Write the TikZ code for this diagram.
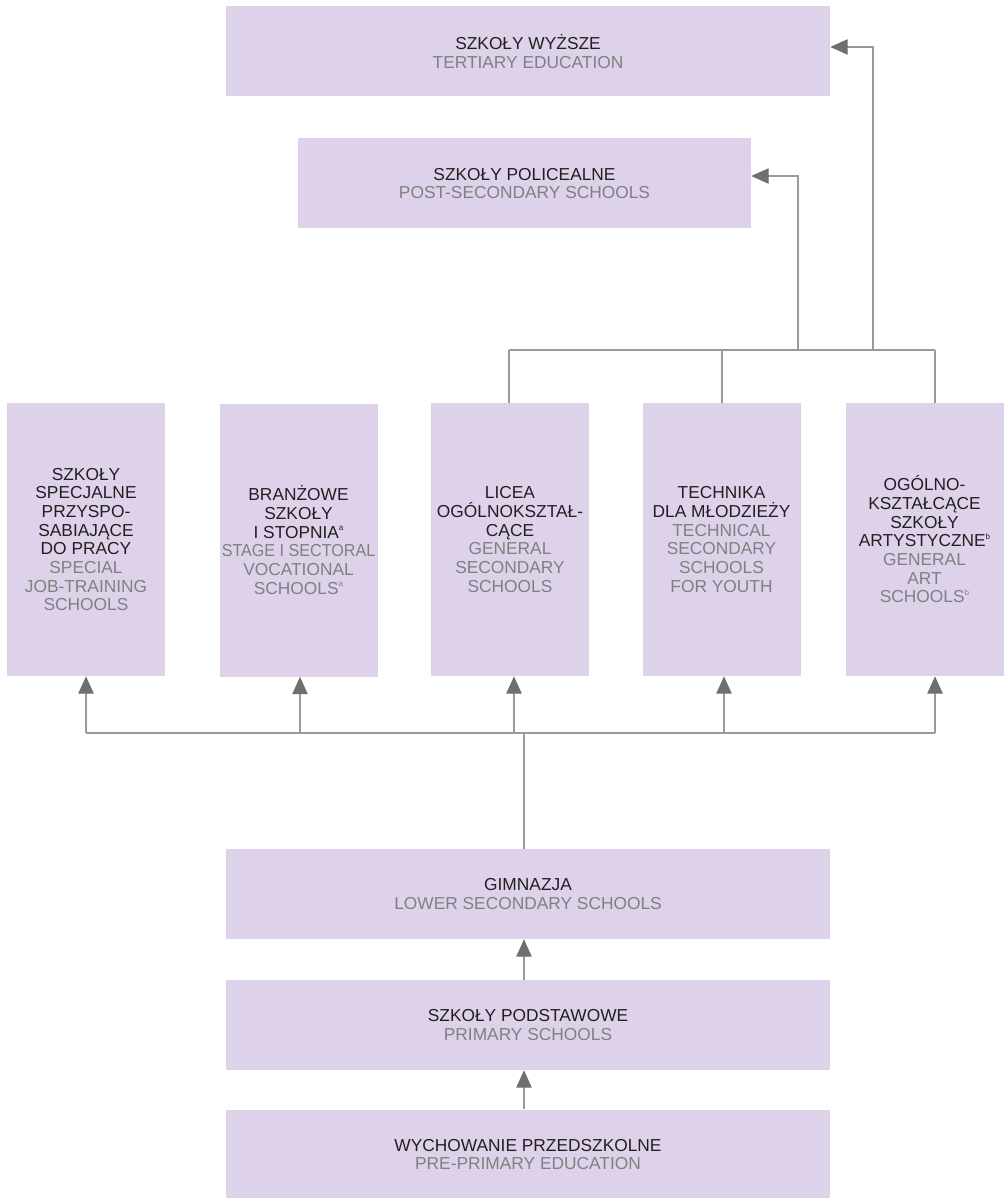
\documentclass[tikz,border=0pt]{standalone}
\usepackage{fontspec}
\usepackage{graphicx}
\setmainfont{Liberation Sans}
\usetikzlibrary{arrows.meta,calc}
\definecolor{boxfill}{HTML}{DED2EB}
\definecolor{plblack}{HTML}{231F20}
\definecolor{engrey}{HTML}{808080}
\definecolor{linegrey}{HTML}{9A9A9A}
\definecolor{tipgrey}{HTML}{6F706C}
\newcommand{\en}[1]{\textcolor{engrey}{#1}}
\newcommand{\fn}[1]{\raisebox{0.8ex}{\fontsize{6}{6}\selectfont #1}}
\begin{document}
\begin{tikzpicture}[
    x=0.75pt, y=-0.75pt,
    level/.style={fill=boxfill, inner sep=0pt, align=center, text=plblack,
        font=\fontsize{13}{14}\selectfont},
    wide/.style={level, minimum width=453pt, minimum height=67.5pt},
    mid/.style={level, minimum width=339.75pt, minimum height=67.5pt},
    col/.style={level, minimum width=118.5pt, minimum height=204.75pt},
    link/.style={draw=linegrey, line width=0.9pt},
    arr/.style={link, -{Triangle[length=13pt, width=11.5pt, color=tipgrey]}}
  ]
  \useasboundingbox (0,0) rectangle (1004,1198);

  % upper levels
  \node[wide] (wyz) at (528,51.5) {SZKOŁY WYŻSZE\\\en{TERTIARY EDUCATION}};
  \node[mid] (pol) at (524.5,183.5) {SZKOŁY POLICEALNE\\\en{POST-SECONDARY SCHOOLS}};

  % secondary schools
  \node[col] (col1) at (86,539.5) {SZKOŁY\\SPECJALNE\\PRZYSPO-\\SABIAJĄCE\\DO PRACY\\
      \en{SPECIAL}\\\en{JOB-TRAINING}\\\en{SCHOOLS}};
  \node[col] (col2) at (298.5,540) {BRANŻOWE\\SZKOŁY\\I STOPNIA\fn{a}\\
      \en{\scalebox{0.93}[1]{STAGE I SECTORAL}}\\\en{VOCATIONAL}\\\en{SCHOOLS\fn{a}}};
  \node[col] (col3) at (510,539.5) {LICEA\\OGÓLNOKSZTAŁ-\\CĄCE\\
      \en{GENERAL}\\\en{SECONDARY}\\\en{SCHOOLS}};
  \node[col] (col4) at (721.5,539.5) {TECHNIKA\\DLA MŁODZIEŻY\\
      \en{TECHNICAL}\\\en{SECONDARY}\\\en{SCHOOLS}\\\en{FOR YOUTH}};
  \node[col] (col5) at (924.5,539.5) {OGÓLNO-\\KSZTAŁCĄCE\\SZKOŁY\\ARTYSTYCZNE\fn{b}\\
      \en{GENERAL}\\\en{ART}\\\en{SCHOOLS\fn{b}}};

  % lower levels
  \node[wide] (gim) at (528,894) {GIMNAZJA\\\en{LOWER SECONDARY SCHOOLS}};
  \node[wide] (pod) at (528,1025) {SZKOŁY PODSTAWOWE\\\en{PRIMARY SCHOOLS}};
  \node[wide] (prz) at (528,1154.5) {WYCHOWANIE PRZEDSZKOLNE\\\en{PRE-PRIMARY EDUCATION}};

  % from gimnazja up to the secondary schools
  \coordinate (split) at (524,733);
  \coordinate (f1) at (86,733);
  \coordinate (f2) at (300,733);
  \coordinate (f3) at (514,733);
  \coordinate (f4) at (724,733);
  \coordinate (f5) at (935,733);
  \draw[link] ([xshift=-3pt]gim.north) -- (split);
  \draw[link] (f1) -- (f5);
  \foreach \i in {1,...,5}
    \draw[arr] (f\i) -- (col\i.south -| f\i);

  % from the secondary schools up
  \coordinate (b3) at (509,350);
  \coordinate (b4) at (722,350);
  \coordinate (b5) at (935,350);
  \coordinate (u1) at (798,350);
  \coordinate (u2) at (873,350);
  \draw[link] (b3) -- (b5);
  \foreach \i in {3,4,5}
    \draw[link] (col\i.north -| b\i) -- (b\i);
  \draw[arr] (u1) |- ([yshift=5.6pt]pol.east);
  \draw[arr] (u2) |- ([yshift=3.4pt]wyz.east);

  % primary and pre-primary
  \draw[arr] ([xshift=-3pt]pod.north) -- ([xshift=-3pt]gim.south);
  \draw[arr] ([xshift=-3pt]prz.north) -- ([xshift=-3pt]pod.south);
\end{tikzpicture}
\end{document}
